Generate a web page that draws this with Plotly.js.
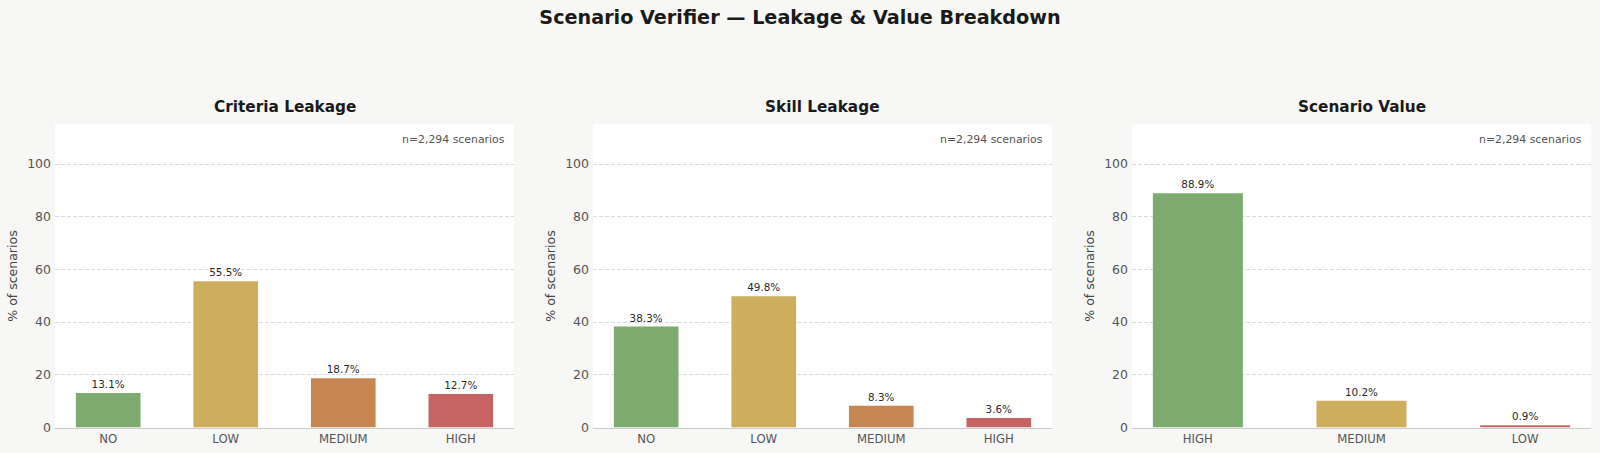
<!DOCTYPE html>
<html>
<head>
<meta charset="utf-8">
<script src="https://cdn.plot.ly/plotly-3.0.1.min.js"></script>
<style>html,body{margin:0;padding:0;background:#f7f7f5;overflow:hidden;}#chart{width:1600px;height:453px;}</style>
</head>
<body>
<div id="chart"></div>
<script>
// ---- data ----
const leakCategories = ["NO", "LOW", "MEDIUM", "HIGH"];
const criteriaLeakage = [13.1, 55.5, 18.7, 12.7];
const skillLeakage = [38.3, 49.8, 8.3, 3.6];
const valueCategories = ["HIGH", "MEDIUM", "LOW"];
const scenarioValue = [88.9, 10.2, 0.9];
const panelTitles = ["Criteria Leakage", "Skill Leakage", "Scenario Value"];
const nLabel = "n=2,294 scenarios";
const yTicks = [0, 20, 40, 60, 80, 100];

const GREEN = "#7dab6f", GOLD = "#cdae5d", ORANGE = "#c68651", RED = "#c66464";
const leakColors = [GREEN, GOLD, ORANGE, RED];
const valueColors = [GREEN, GOLD, RED];
const FONT = "DejaVu Sans, Verdana, sans-serif";
const BAR_W = 0.55;

function barTrace(x, y, colors, ax) {
  return {
    type: "bar", x: x, y: y, xaxis: "x" + ax, yaxis: "y" + ax,
    marker: {color: colors, line: {width: 0}},
    width: BAR_W,
    text: y.map(v => v.toFixed(1) + "%"),
    textposition: "outside",
    textfont: {family: FONT, size: 10.4, color: "#2a2a2a"},
    cliponaxis: false,
    hoverinfo: "x+y",
    showlegend: false
  };
}

const data = [
  barTrace(leakCategories, criteriaLeakage, leakColors, ""),
  barTrace(leakCategories, skillLeakage, leakColors, "2"),
  barTrace(valueCategories, scenarioValue, valueColors, "3")
];

const W = 1600, H = 453;
const xDomains = [[55/W, 514/W], [593/W, 1052/W], [1132/W, 1591/W]];
const yDomain = [(H-427.5)/H, (H-124.5)/H];

const layout = {
  width: W, height: H,
  margin: {l: 0, r: 0, t: 0, b: 0},
  paper_bgcolor: "#f7f7f5",
  plot_bgcolor: "#ffffff",
  font: {family: FONT, color: "#444444"},
  title: {text: "<b>Scenario Verifier — Leakage & Value Breakdown</b>", x: 0.5, xanchor: "center", y: 1 - 17.5/H, yanchor: "middle",
          font: {family: FONT, size: 19.2, color: "#1a1a1a"}},
  annotations: []
};

function catRange(n) {
  const span = (n - 1) + BAR_W;
  const pad = 0.05 * span;
  return [-BAR_W/2 - pad, (n - 1) + BAR_W/2 + pad];
}

const suffixes = ["", "2", "3"];
const counts = [leakCategories.length, leakCategories.length, valueCategories.length];
suffixes.forEach((s, i) => {
  layout["xaxis" + s] = {
    domain: xDomains[i], anchor: "y" + s, range: catRange(counts[i]),
    showgrid: false, zeroline: false, showline: true, linecolor: "#cccccc", linewidth: 1,
    ticks: "", tickfont: {family: FONT, size: 11.7, color: "#555555"}, fixedrange: true
  };
  layout["yaxis" + s] = {
    domain: yDomain, anchor: "x" + s, range: [0, 115],
    tickvals: yTicks, ticks: "", ticklen: 0, ticklabelstandoff: 3,
    tickfont: {family: FONT, size: 12.5, color: "#555555"},
    showgrid: true, gridcolor: "#dcdcdc", griddash: "4px,2px", gridwidth: 1,
    zeroline: false, showline: false,
    title: {text: "% of scenarios", font: {family: FONT, size: 12.5, color: "#444444"}, standoff: 6},
    fixedrange: true
  };
  layout.annotations.push({
    text: "<b>" + panelTitles[i] + "</b>", xref: "paper", yref: "paper",
    x: (xDomains[i][0] + xDomains[i][1]) / 2, y: (H-107)/H, xanchor: "center", yanchor: "middle",
    showarrow: false, font: {family: FONT, size: 15.3, color: "#1a1a1a"}
  });
  layout.annotations.push({
    text: nLabel, xref: "x" + s + " domain", yref: "y" + s + " domain",
    x: 0.985, y: 0.952, xanchor: "right", yanchor: "middle",
    showarrow: false, font: {family: FONT, size: 10.9, color: "#555555"}
  });
});

Plotly.newPlot("chart", data, layout, {displayModeBar: false, staticPlot: true});
</script>
</body>
</html>
